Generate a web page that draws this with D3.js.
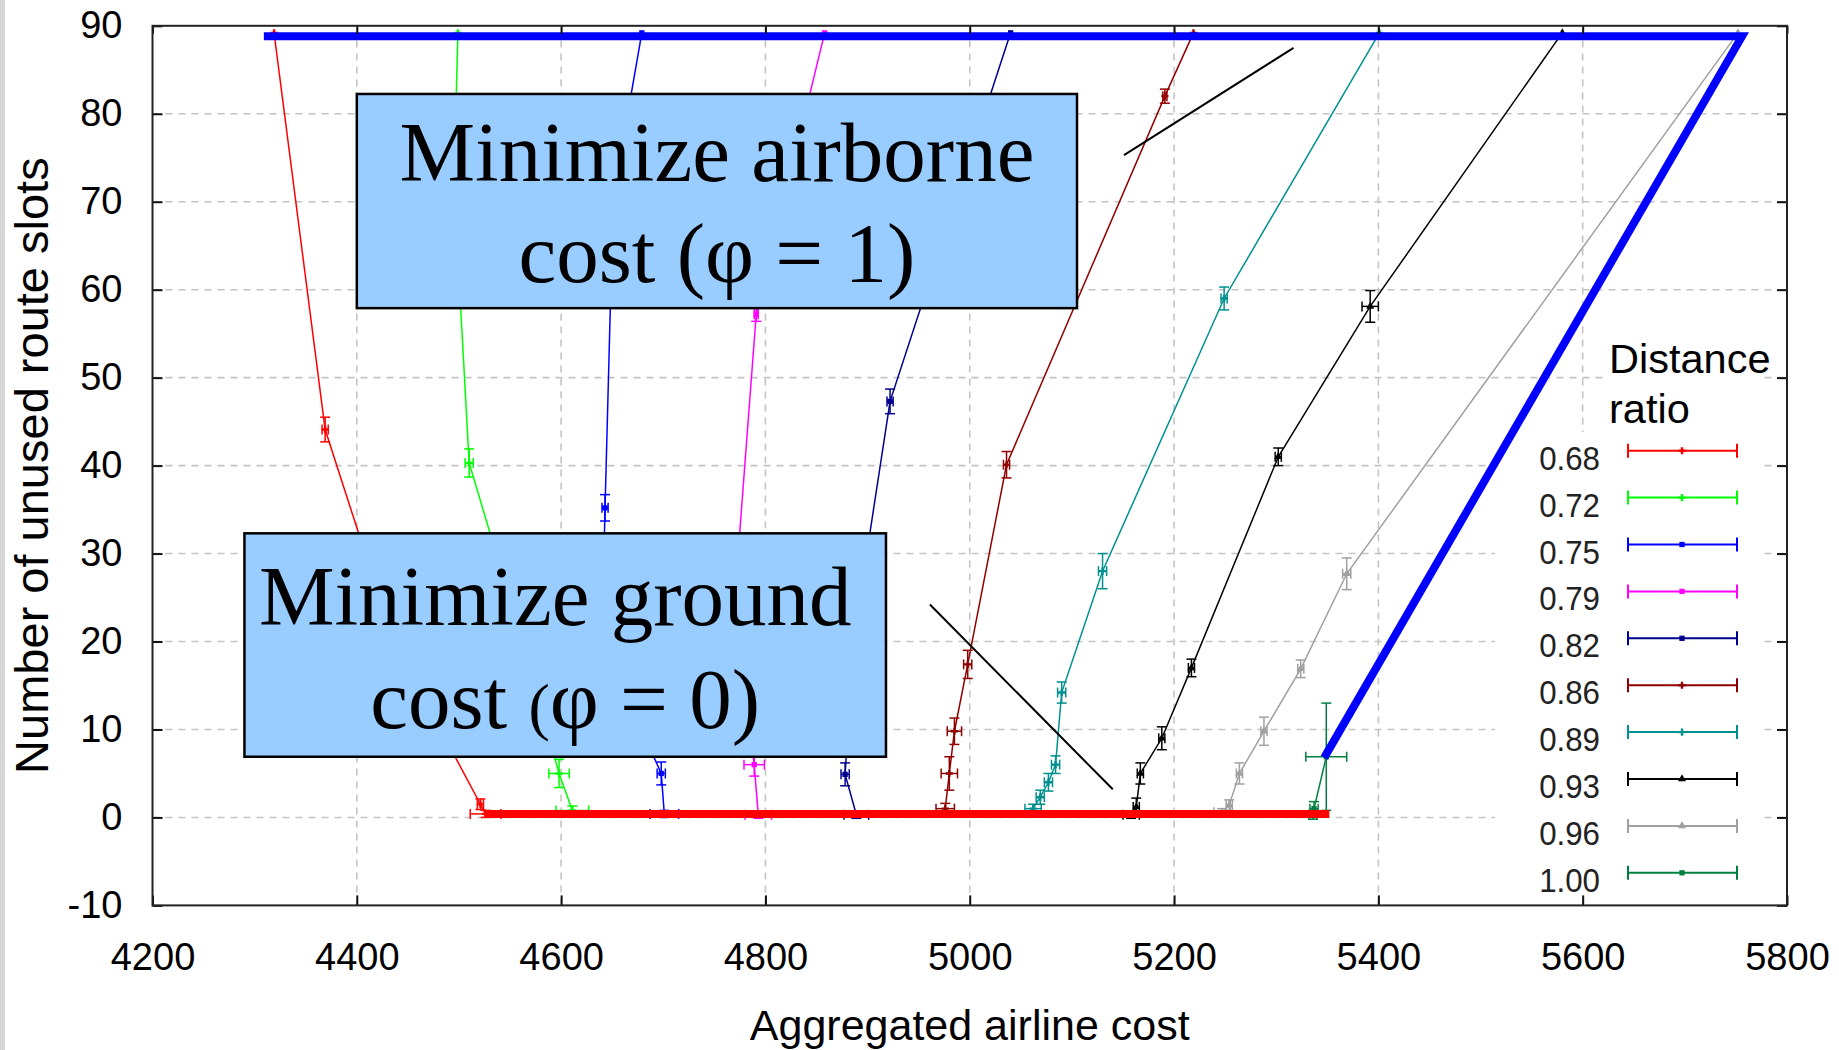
<!DOCTYPE html>
<html>
<head>
<meta charset="utf-8">
<script src="https://cdn.jsdelivr.net/npm/d3@7"></script>
<style>
  body { margin: 0; background: #fff; }
  svg { display: block; }
</style>
</head>
<body>
<div id="chart"></div>
<script>
// Distance ratio series: [cost, slots, costErr, slotErr]
const ratios = ["0.68", "0.72", "0.75", "0.79", "0.82", "0.86", "0.89", "0.93", "0.96", "1.00"];
const d068 = [[4319,89.2,0,0],[4369,44.1,3,1.4],[4436,20,3,1.2],[4521,1.5,3,0.6],[4526,0.4,15,0.4]];
const d072 = [[4499,89.2,0,0],[4495,72,2,1],[4510,40.3,4,1.6],[4562,20,3,1.2],[4598,5.0,10,1.6],[4611,0.8,16,0.5]];
const d075 = [[4679,89.2,0,0],[4651,70.5,2,1],[4643,35.2,3,1.5],[4640,20,3,1.2],[4698,5.0,4,1.3],[4701,0.4,14,0.4]];
const d079 = [[4858,89.2,0,0],[4791,57.2,2,0.8],[4770,25,3,1.2],[4789,6.0,10,1.3],[4793,0.3,13,0.4]];
const d082 = [[5040,89.2,0,0],[4922,47.3,3,1.4],[4886,20,3,1.2],[4878,4.9,4,1.3],[4889,0.3,12,0.4]];
const d086 = [[5219,89.2,0,0],[5191,82,2,0.8],[5036,40.1,3,1.5],[4998,17.4,4,1.6],[4985,9.8,7,1.5],[4980,5,8,1.9],[4976,1,9,0.6]];
const d089 = [[5401,89.2,0,0],[5249,59,3,1.3],[5130,28,4,2],[5090,14.2,4,1.2],[5084,6,4,1],[5077,4,4,1],[5069,2.3,4,0.8],[5062,1,8,0.5]];
const d093 = [[5580,89.2,0,0],[5392,58.1,8,1.8],[5302,41,3,1],[5217,17,3,1],[5188,9,3,1.3],[5167,5,3,1.2],[5163,1.2,3,1],[5158,0.3,8,0.4]];
const d096 = [[5752,89.2,0,0],[5369,27.7,4,1.8],[5324,16.9,3,1],[5288,9.8,3,1.6],[5264,5,3,1.2],[5254,1.4,3,0.6],[5247,0.6,8,0.4]];
const d100 = [[5349,6.9,20,6.1],[5337,1,4,0.8],[5336,0.3,4,0.5]];
const seriesData = [d068, d072, d075, d079, d082, d086, d089, d093, d096, d100];

// frontier lines
const airborneCost = [4309, 5756, 5347];
const airborneSlots = [88.8, 88.8, 6.8];
const groundCost = [4525, 5352];
const groundSlots = [0.4, 0.4];

const xTicks = [4200, 4400, 4600, 4800, 5000, 5200, 5400, 5600, 5800];
const yTicks = [-10, 0, 10, 20, 30, 40, 50, 60, 70, 80, 90];

// annotation boxes (data coords) and pointer lines
const boxAir = {x0: 4400, x1: 5105, y0: 82.25, y1: 57.9};
const boxGround = {x0: 4290, x1: 4918, y0: 32.3, y1: 6.9};
const pointerAir = [[5151, 75.3], [5317, 87.5]];
const pointerGround = [[4961, 24.2], [5140, 3.2]];

const colors = ["#ff0000","#00ff00","#0000ff","#ff00ff","#000090","#900000","#009090","#000000","#a0a0a0","#008040"];
const shapes = [d3.symbolCross, d3.symbolCross, d3.symbolSquare, d3.symbolSquare, d3.symbolSquare,
                d3.symbolCross, d3.symbolCross, d3.symbolTriangle, d3.symbolTriangle, d3.symbolSquare];

const W = 1839, H = 1050;
const margin = {top: 25.8, right: 52, bottom: 144.6, left: 152.5};

const svg = d3.select("#chart").append("svg")
    .attr("width", W)
    .attr("height", H);

svg.append("rect").attr("width", W).attr("height", H).attr("fill", "#fff");
svg.append("rect").attr("width", 5).attr("height", H).attr("fill", "#d6d6d6");

const x = d3.scaleLinear().domain([4200, 5800]).range([margin.left, W - margin.right]);
const y = d3.scaleLinear().domain([-10, 90]).range([H - margin.bottom, margin.top]);

// grid
const grid = svg.append("g")
    .attr("stroke", "#c4c4c4")
    .attr("stroke-width", 1.6)
    .attr("stroke-dasharray", "7,6");
grid.selectAll(".gx").data(xTicks.slice(1, -1)).enter().append("line")
    .attr("x1", d => x(d)).attr("x2", d => x(d))
    .attr("y1", y(-10)).attr("y2", y(90));
grid.selectAll(".gy").data(yTicks.slice(1, -1)).enter().append("line")
    .attr("x1", x(4200)).attr("x2", x(5800))
    .attr("y1", d => y(d)).attr("y2", d => y(d));

// legend background hides the grid
svg.append("rect").attr("x", 1495).attr("y", 432).attr("width", 265).attr("height", 462).attr("fill", "#fff");
svg.append("rect").attr("x", 1605).attr("y", 338).attr("width", 157).attr("height", 96).attr("fill", "#fff");

// series
const line = d3.line().x(d => x(d[0])).y(d => y(d[1]));
const cap = 5;

seriesData.forEach(function(data, i) {
  const g = svg.append("g").attr("stroke", colors[i]).attr("fill", "none");
  g.append("path").attr("d", line(data)).attr("stroke-width", 1.5);

  data.forEach(function(d) {
    if (d[2] > 0) {
      g.append("line")
        .attr("x1", x(d[0] - d[2])).attr("x2", x(d[0] + d[2]))
        .attr("y1", y(d[1])).attr("y2", y(d[1])).attr("stroke-width", 1.5);
      [d[0] - d[2], d[0] + d[2]].forEach(function(e) {
        g.append("line")
          .attr("x1", x(e)).attr("x2", x(e))
          .attr("y1", y(d[1]) - cap).attr("y2", y(d[1]) + cap).attr("stroke-width", 1.5);
      });
    }
    if (d[3] > 0) {
      g.append("line")
        .attr("x1", x(d[0])).attr("x2", x(d[0]))
        .attr("y1", y(d[1] - d[3])).attr("y2", y(d[1] + d[3])).attr("stroke-width", 1.5);
      [d[1] - d[3], d[1] + d[3]].forEach(function(e) {
        g.append("line")
          .attr("x1", x(d[0]) - cap).attr("x2", x(d[0]) + cap)
          .attr("y1", y(e)).attr("y2", y(e)).attr("stroke-width", 1.5);
      });
    }
  });

  g.selectAll(".pt").data(data).enter().append("path")
    .attr("transform", d => "translate(" + x(d[0]) + "," + y(d[1]) + ")")
    .attr("d", d3.symbol().type(shapes[i]).size(28))
    .attr("fill", colors[i])
    .attr("stroke", "none");
});

// frontier lines
svg.append("path")
    .attr("d", d3.line().x(i => x(airborneCost[i])).y(i => y(airborneSlots[i]))(d3.range(airborneCost.length)))
    .attr("fill", "none").attr("stroke", "#0000ff").attr("stroke-width", 8)
    .attr("stroke-linejoin", "miter");
svg.append("path")
    .attr("d", d3.line().x(i => x(groundCost[i])).y(i => y(groundSlots[i]))(d3.range(groundCost.length)))
    .attr("fill", "none").attr("stroke", "#ff0000").attr("stroke-width", 8);

// annotation boxes
function drawBox(b) {
  return svg.append("rect")
    .attr("x", x(b.x0)).attr("y", y(b.y0))
    .attr("width", x(b.x1) - x(b.x0)).attr("height", y(b.y1) - y(b.y0))
    .attr("fill", "#99ccff").attr("stroke", "#000").attr("stroke-width", 2.5);
}
drawBox(boxAir);
drawBox(boxGround);

const serif = "'Liberation Serif', 'Times New Roman', serif";
const airCx = (x(boxAir.x0) + x(boxAir.x1)) / 2;
svg.append("text").attr("x", airCx).attr("y", y(boxAir.y0) + 87)
    .attr("text-anchor", "middle").attr("font-family", serif).attr("font-size", 85)
    .text("Minimize airborne");
svg.append("text").attr("x", airCx).attr("y", y(boxAir.y0) + 188)
    .attr("text-anchor", "middle").attr("font-family", serif).attr("font-size", 85)
    .text("cost (φ = 1)");

const gCx = (x(boxGround.x0) + x(boxGround.x1)) / 2;
svg.append("text").attr("x", gCx - 10).attr("y", y(boxGround.y0) + 92)
    .attr("text-anchor", "middle").attr("font-family", serif).attr("font-size", 85)
    .text("Minimize ground");
const t2 = svg.append("text").attr("x", gCx).attr("y", y(boxGround.y0) + 195)
    .attr("text-anchor", "middle").attr("font-family", serif).attr("font-size", 85);
t2.append("tspan").text("cost ");
t2.append("tspan").attr("font-size", 64).text("(");
t2.append("tspan").text("φ = 0)");

[pointerAir, pointerGround].forEach(function(p) {
  svg.append("line")
    .attr("x1", x(p[0][0])).attr("y1", y(p[0][1]))
    .attr("x2", x(p[1][0])).attr("y2", y(p[1][1]))
    .attr("stroke", "#000").attr("stroke-width", 2);
});

// legend
const sans = "'Liberation Sans', Arial, sans-serif";
svg.append("text").attr("x", 1609).attr("y", 373)
    .attr("font-family", sans).attr("font-size", 41.5).text("Distance");
svg.append("text").attr("x", 1609).attr("y", 423)
    .attr("font-family", sans).attr("font-size", 41.5).text("ratio");

const legend = svg.append("g").selectAll("g")
    .data(ratios)
    .enter().append("g")
    .attr("transform", (d, i) => "translate(0," + (450.7 + i * 46.9) + ")");

legend.append("text")
    .attr("x", 1600).attr("y", 19)
    .attr("text-anchor", "end")
    .attr("font-family", sans).attr("font-size", 34)
    .attr("fill", "#222")
    .attr("transform", "translate(1600,0) scale(0.92,1) translate(-1600,0)")
    .text(d => d);
legend.append("line")
    .attr("x1", 1628).attr("x2", 1737).attr("y1", 0).attr("y2", 0)
    .attr("stroke", (d, i) => colors[i]).attr("stroke-width", 2);
[1628, 1737].forEach(function(px) {
  legend.append("line")
    .attr("x1", px).attr("x2", px).attr("y1", -7).attr("y2", 7)
    .attr("stroke", (d, i) => colors[i]).attr("stroke-width", 2);
});
legend.append("path")
    .attr("transform", "translate(1682,0)")
    .attr("d", (d, i) => d3.symbol().type(shapes[i]).size(28)())
    .attr("fill", (d, i) => colors[i]);

// axes + frame
const plain = d => String(d);
const bottomAxis = svg.append("g")
    .attr("transform", "translate(0," + y(-10) + ")")
    .call(d3.axisBottom(x).tickValues(xTicks).tickSizeInner(-10).tickSizeOuter(0).tickPadding(38).tickFormat(plain));
const leftAxis = svg.append("g")
    .attr("transform", "translate(" + x(4200) + ",0)")
    .call(d3.axisLeft(y).tickValues(yTicks).tickSizeInner(-10).tickSizeOuter(0).tickPadding(30).tickFormat(plain));
const topAxis = svg.append("g")
    .attr("transform", "translate(0," + y(90) + ")")
    .call(d3.axisTop(x).tickValues(xTicks).tickSizeInner(-8).tickSizeOuter(0).tickFormat(""));
const rightAxis = svg.append("g")
    .attr("transform", "translate(" + x(5800) + ",0)")
    .call(d3.axisRight(y).tickValues(yTicks).tickSizeInner(-10).tickSizeOuter(0).tickFormat(""));

[bottomAxis, leftAxis, topAxis, rightAxis].forEach(function(a) {
  a.select(".domain").remove();
  a.selectAll("line").attr("stroke", "#111").attr("stroke-width", 2);
  a.selectAll("text").attr("font-family", sans).attr("font-size", 38).attr("fill", "#000");
});

svg.append("rect")
    .attr("x", x(4200)).attr("y", y(90))
    .attr("width", x(5800) - x(4200)).attr("height", y(-10) - y(90))
    .attr("fill", "none").attr("stroke", "#222").attr("stroke-width", 2);

// axis titles
svg.append("text")
    .attr("x", (x(4200) + x(5800)) / 2).attr("y", 1040)
    .attr("text-anchor", "middle")
    .attr("font-family", sans).attr("font-size", 43)
    .text("Aggregated airline cost");

svg.append("text")
    .attr("transform", "translate(48," + (y(90) + y(-10)) / 2 + ") rotate(-90)")
    .attr("text-anchor", "middle")
    .attr("font-family", sans).attr("font-size", 47)
    .text("Number of unused route slots");
</script>
</body>
</html>
